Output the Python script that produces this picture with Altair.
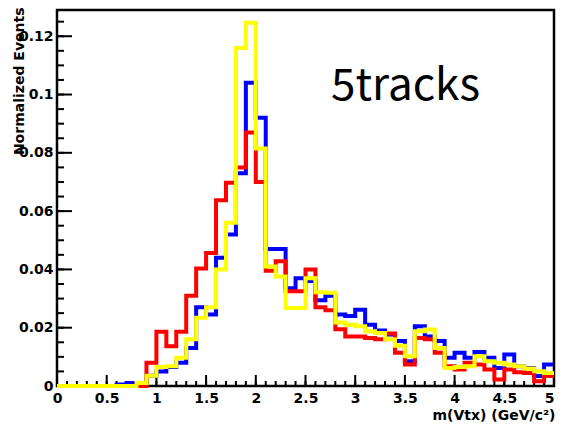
import altair as alt
import pandas as pd

# ---- histogram binning (0.1 GeV bins from 0 to 5) ----
bin_lo = 0.0
bin_w = 0.1
n_bins = 50
bin_edges = [round(bin_lo + i * bin_w, 2) for i in range(n_bins + 1)]

# ---- normalized bin contents ----
blue = [0, 0, 0, 0, 0, 0,
        0.0005, 0.001, 0.0005, 0.0035,
        0.005, 0.0065, 0.008, 0.013, 0.027, 0.0245, 0.044, 0.052, 0.073, 0.104,
        0.092, 0.047, 0.047, 0.0335, 0.037, 0.036, 0.0294, 0.031, 0.0245, 0.024,
        0.0262, 0.021, 0.019, 0.0177, 0.0154, 0.0085, 0.0205, 0.017, 0.0154, 0.0097,
        0.0114, 0.0097, 0.0117, 0.0097, 0.0062, 0.0108, 0.0068, 0.0062, 0.0034, 0.0074]

red = [0, 0, 0, 0, 0, 0, 0, 0, 0,
       0.008,
       0.0186, 0.0136, 0.0186, 0.031, 0.0403, 0.0456, 0.0637, 0.0697, 0.075, 0.087,
       0.070, 0.0395, 0.0428, 0.0325, 0.0325, 0.040, 0.027, 0.026, 0.0195, 0.017,
       0.017, 0.0165, 0.016, 0.018, 0.0114, 0.0074, 0.0165, 0.016, 0.0114, 0.0068,
       0.0057, 0.008, 0.0074, 0.0057, 0.0022, 0.0057, 0.0047, 0.0045, 0.0016, 0.0034]

yellow = [0, 0, 0, 0, 0, 0, 0, 0,
          0.001, 0.0035,
          0.0065, 0.0068, 0.0097, 0.016, 0.0234, 0.027, 0.040, 0.056, 0.116, 0.1246,
          0.0815, 0.041, 0.0376, 0.0268, 0.0268, 0.037, 0.0322, 0.032, 0.0218, 0.021,
          0.0205, 0.0188, 0.0182, 0.016, 0.0138, 0.0102, 0.0188, 0.0194, 0.013, 0.0062,
          0.0065, 0.0068, 0.0102, 0.0085, 0.008, 0.0074, 0.0068, 0.006, 0.0051, 0.0045]

series = [("blue", blue, "#0000ff"), ("red", red, "#ff0000"), ("yellow", yellow, "#ffff00")]

# ---- axis ticks (ROOT style, inside the frame) ----
x_major = [0, 0.5, 1, 1.5, 2, 2.5, 3, 3.5, 4, 4.5, 5]
x_minor = bin_edges
y_major = [0, 0.02, 0.04, 0.06, 0.08, 0.1, 0.12]
y_minor = [round(i * 0.005, 3) for i in range(26)]

x_title = "m(Vtx) (GeV/c²)"
y_title = "Normalized Events"
annotation = "5tracks"

W, H = 497, 376
FONT = "DejaVu Sans"
xs = alt.Scale(domain=[0, 5], nice=False, zero=False)
ys = alt.Scale(domain=[0, 0.129], nice=False, zero=False)


def step_frame(vals, name):
    return pd.DataFrame({"x": bin_edges, "y": list(vals) + [vals[-1]], "s": name})


x_axis = alt.Axis(values=x_major, format="~g", ticks=False, domain=False, grid=False,
                  labelFont=FONT, labelFontWeight="bold", labelFontSize=14, labelColor="black",
                  labelPadding=5, labelFlush=False, labelOverlap=False,
                  labelAlign={"condition": {"test": "datum.value == 5", "value": "right"},
                              "value": "center"},
                  title=x_title, titleFont=FONT, titleFontWeight="bold", titleFontSize=14,
                  titleColor="black", titleAlign="right", titleBaseline="alphabetic",
                  titleX=W + 1, titleY=33)
y_axis = alt.Axis(values=y_major, format="~g", ticks=False, domain=False, grid=False,
                  labelFont=FONT, labelFontWeight="bold", labelFontSize=14, labelColor="black",
                  labelPadding=4, labelFlush=False, labelOverlap=False, labelBaseline="middle",
                  title=y_title, titleFont=FONT, titleFontWeight="bold", titleFontSize=14,
                  titleColor="black", titleAngle=270, titleAlign="right",
                  titleBaseline="alphabetic", titleX=-34, titleY=-3)

layers = []
for name, vals, col in series:
    layers.append(
        alt.Chart(step_frame(vals, name)).mark_line(
            interpolate="step-after", color=col, strokeWidth=4, strokeJoin="miter"
        ).encode(
            x=alt.X("x:Q", scale=xs, axis=x_axis, title=x_title),
            y=alt.Y("y:Q", scale=ys, axis=y_axis, title=y_title),
        )
    )

tick_layers = [
    alt.Chart(pd.DataFrame({"t": x_major})).mark_rule(color="black", strokeWidth=2).encode(
        x=alt.X("t:Q", scale=xs, axis=x_axis, title=x_title), y=alt.value(H), y2=alt.value(H - 11)),
    alt.Chart(pd.DataFrame({"t": x_minor})).mark_rule(color="black", strokeWidth=2).encode(
        x=alt.X("t:Q", scale=xs, axis=x_axis, title=x_title), y=alt.value(H), y2=alt.value(H - 5)),
    alt.Chart(pd.DataFrame({"t": y_major})).mark_rule(color="black", strokeWidth=2).encode(
        y=alt.Y("t:Q", scale=ys, axis=y_axis, title=y_title), x=alt.value(0), x2=alt.value(15)),
    alt.Chart(pd.DataFrame({"t": y_minor})).mark_rule(color="black", strokeWidth=2).encode(
        y=alt.Y("t:Q", scale=ys, axis=y_axis, title=y_title), x=alt.value(0), x2=alt.value(7)),
]

text_layer = alt.Chart(pd.DataFrame({"label": [annotation]})).mark_text(
    font="Noto Sans CJK JP", fontSize=44, align="left", baseline="alphabetic", color="black"
).encode(text="label:N", x=alt.value(274), y=alt.value(90))

chart = alt.layer(*tick_layers, *layers, text_layer).properties(
    width=W, height=H,
    autosize=alt.AutoSizeParams(type="none"),
    padding={"left": 49, "top": 2, "right": 2, "bottom": 38},
    background="white",
).configure_view(stroke="black", strokeWidth=2.5)

chart.save("out.html", embed_options={"renderer": "svg", "actions": False})
